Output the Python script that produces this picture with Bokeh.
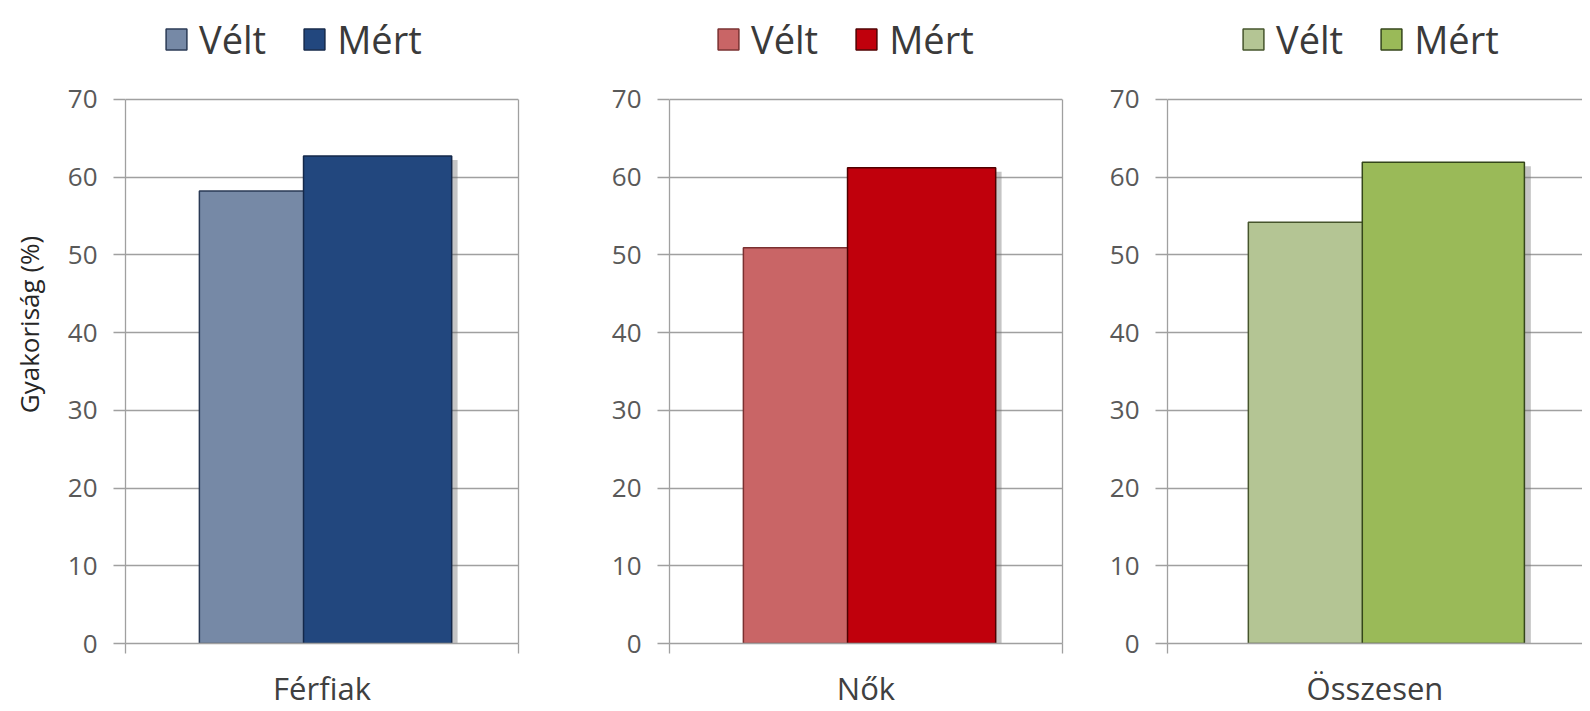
from bokeh.plotting import figure
from bokeh.models import (Range1d, FixedTicker, Legend, LegendItem, ColumnDataSource,
                          LinearAxis)
from bokeh.transform import dodge
from bokeh.layouts import row
from bokeh.embed import file_html
from bokeh.resources import INLINE

# ---- data ----
categories = ["Férfiak", "Nők", "Összesen"]
series = ["Vélt", "Mért"]
velt = [58.2, 50.9, 54.2]
mert = [62.7, 61.2, 61.9]
y_ticks = [0, 10, 20, 30, 40, 50, 60, 70]
y_max = 70
y_label = "Gyakoriság (%)"

# ---- styles ----
velt_fill = ["#7689a6", "#c96566", "#b4c594"]
velt_line = ["#2a3a55", "#7a3030", "#46552c"]
mert_fill = ["#22477e", "#c0000c", "#9aba58"]
mert_line = ["#14284a", "#500000", "#34461a"]

FONT = "Open Sans"
GRID = "#a0a0a0"

# layout of each panel (pixels); x_end < 1 means the panel is cut at the right
panels = [
    dict(fig_w=560, left=125, right=42, legend_x=38, x_end=1.0, border=True),
    dict(fig_w=540, left=109, right=38, legend_x=46, x_end=1.0, border=True),
    dict(fig_w=482, left=67, right=0, legend_x=73, x_end=415 / 430, border=False),
]

FIG_H = 711
TOP = 5             # frame starts near the top; legend lives in the space above 70
BOTTOM = 67
PLOT_PX = 545       # pixel height of the 0..70 value area
FRAME_PX = FIG_H - TOP - BOTTOM
Y_END = y_max * FRAME_PX / PLOT_PX
SLOT = 0.5          # centre of the single category slot on a 0..1 axis
BAR_W = 0.377
OFF_V = -0.1235
OFF_M = 0.1415

figs = []
for i, cat in enumerate(categories):
    cfg = panels[i]

    p = figure(width=cfg["fig_w"], height=FIG_H,
               x_range=Range1d(0, cfg["x_end"]),
               y_range=Range1d(0, Y_END),
               output_backend="svg", toolbar_location=None,
               min_border_left=cfg["left"], min_border_right=cfg["right"],
               min_border_top=TOP, min_border_bottom=BOTTOM)
    p.background_fill_color = "white"
    p.border_fill_color = "white"
    p.outline_line_color = None

    # y axis
    yax = p.yaxis[0]
    yax.ticker = FixedTicker(ticks=y_ticks)
    yax.bounds = (0, y_max)
    yax.major_tick_out = 12
    yax.major_tick_in = 0
    yax.minor_tick_line_color = None
    yax.axis_line_color = GRID
    yax.axis_line_width = 1.3
    yax.major_tick_line_color = GRID
    yax.major_tick_line_width = 1.3
    yax.major_label_text_font = FONT
    yax.major_label_text_font_size = "26px"
    yax.major_label_text_color = "#595959"
    yax.major_label_standoff = 16
    if i == 0:
        yax.axis_label = y_label
        yax.axis_label_text_font = FONT
        yax.axis_label_text_font_size = "26px"
        yax.axis_label_text_font_style = "normal"
        yax.axis_label_text_color = "#262626"
        yax.axis_label_standoff = 18

    # right border of the plot area
    if cfg["border"]:
        rax = LinearAxis(ticker=FixedTicker(ticks=[]), bounds=(0, y_max))
        rax.axis_line_color = GRID
        rax.axis_line_width = 1.3
        rax.major_tick_line_color = None
        rax.minor_tick_line_color = None
        rax.major_tick_out = 0
        rax.major_label_standoff = 0
        p.add_layout(rax, "right")

    p.xgrid.visible = False
    p.ygrid.ticker = FixedTicker(ticks=y_ticks)
    p.ygrid.grid_line_color = GRID
    p.ygrid.grid_line_width = 1.3

    # x axis: small ticks at the plot edges only, category as label
    xax = p.xaxis[0]
    xax.ticker = FixedTicker(ticks=[], minor_ticks=[0, 1])
    xax.minor_tick_out = 10
    xax.minor_tick_in = 0
    xax.minor_tick_line_color = GRID
    xax.minor_tick_line_width = 1.3
    xax.major_tick_line_color = None
    xax.major_tick_out = 0
    xax.axis_line_color = GRID
    xax.axis_line_width = 1.3
    xax.major_label_standoff = 0
    xax.axis_label = cat
    xax.axis_label_text_font = FONT
    xax.axis_label_text_font_size = "31px"
    xax.axis_label_text_font_style = "normal"
    xax.axis_label_text_color = "#404040"
    xax.axis_label_standoff = 13

    src = ColumnDataSource(dict(slot=[SLOT], velt=[velt[i]], mert=[mert[i]]))

    rv = p.vbar(x=dodge("slot", OFF_V), top="velt", width=BAR_W,
                bottom=0, source=src, fill_color=velt_fill[i],
                line_color=velt_line[i], line_width=1.5)
    # soft shadow behind the measured bar
    p.vbar(x=dodge("slot", OFF_M + 0.015), top=dodge("mert", -0.5),
           width=BAR_W, bottom=0, source=src, fill_color="#6f6f6f", fill_alpha=0.4,
           line_color=None)
    rm = p.vbar(x=dodge("slot", OFF_M), top="mert", width=BAR_W,
                bottom=0, source=src, fill_color=mert_fill[i],
                line_color=mert_line[i], line_width=1.5)

    legend = Legend(items=[LegendItem(label=series[0], renderers=[rv]),
                           LegendItem(label=series[1], renderers=[rm])],
                    location=(cfg["legend_x"], FRAME_PX - 61), orientation="horizontal")
    legend.label_text_font = FONT
    legend.label_text_font_size = "38px"
    legend.label_text_color = "#3a3a3a"
    legend.glyph_width = 26
    legend.glyph_height = 26
    legend.label_standoff = 10
    legend.spacing = 35
    legend.padding = 0
    legend.margin = 0
    legend.border_line_color = None
    legend.background_fill_alpha = 0
    p.add_layout(legend)

    figs.append(p)

layout = row(*figs)
open("out.html", "w").write(file_html(layout, INLINE))
